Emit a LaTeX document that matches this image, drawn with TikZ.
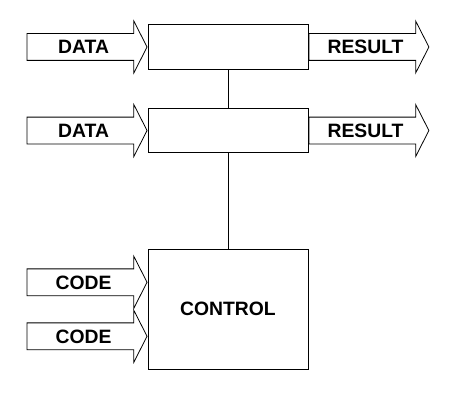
\documentclass[tikz,border=0pt]{standalone}
\usepackage{fontspec}
\setmainfont{Liberation Sans}
\usetikzlibrary{positioning,shapes.arrows}

\begin{document}
\begin{tikzpicture}[
  box/.style={draw, line width=0.75pt, minimum height=33.4pt, minimum width=120pt, inner sep=0pt, font=\bfseries\fontsize{14.5}{16}\selectfont},
  fat/.style={draw, single arrow, line width=0.6pt, minimum height=90pt, single arrow head extend=9.4pt, single arrow tip angle=126, inner xsep=0pt, inner ysep=0pt, text height=14.9pt, text depth=4.6pt, font=\bfseries\fontsize{14.5}{16}\selectfont},
  link/.style={line width=0.75pt}
]
  \useasboundingbox (-171pt,35.25pt) rectangle (168pt,-267pt);

  \node[box] (stage1) {};
  \node[box, below=28.5pt of stage1] (stage2) {};
  \node[box, below=71.6pt of stage2, minimum height=90pt] (ctrl) {CONTROL};

  \node[fat, anchor=tip] (data1) at (stage1.west) {DATA};
  \node[fat, anchor=tip] (data2) at (stage2.west) {DATA};
  \node[fat, anchor=tail] (res1) at (stage1.east) {RESULT};
  \node[fat, anchor=tail] (res2) at (stage2.east) {RESULT};
  \node[fat, anchor=tip] (code1) at ([yshift=20.25pt]ctrl.west) {CODE};
  \node[fat, anchor=tip] (code2) at ([yshift=-20.25pt]ctrl.west) {CODE};

  \draw[link] (stage1) -- (stage2);
  \draw[link] (stage2) -- (ctrl);
\end{tikzpicture}
\end{document}
